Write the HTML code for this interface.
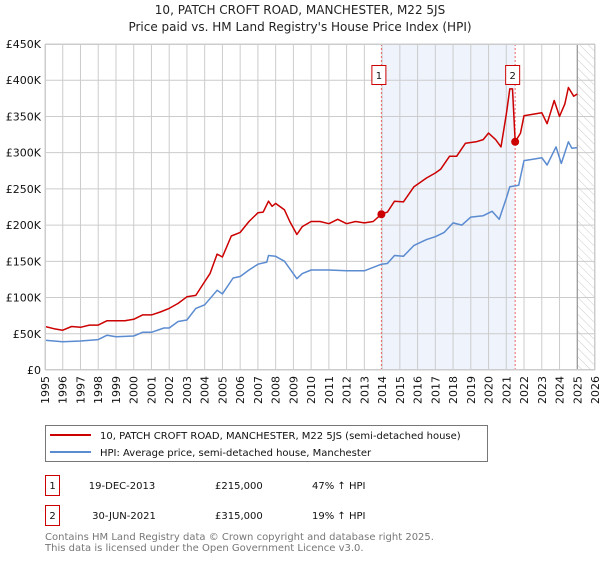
<!DOCTYPE html>
<html><head><meta charset="utf-8"><style>
body{margin:0;background:#fff;font-family:"DejaVu Sans","Liberation Sans",sans-serif;}
svg text{font-family:"DejaVu Sans","Liberation Sans",sans-serif;}
</style></head><body>
<svg id="c" width="600" height="560" xmlns="http://www.w3.org/2000/svg">
<defs><pattern id="hatch" width="6" height="6" patternUnits="userSpaceOnUse" patternTransform="rotate(-45)"><line x1="0" y1="0" x2="0" y2="6" stroke="#ccc" stroke-width="1"/></pattern></defs>
<text x="300" y="14" text-anchor="middle" font-size="12" fill="#222">10, PATCH CROFT ROAD, MANCHESTER, M22 5JS</text>
<text x="300" y="31" text-anchor="middle" font-size="12" fill="#222">Price paid vs. HM Land Registry's House Price Index (HPI)</text>
<g id="plot"></g>
<g>
<rect x="45.5" y="425.5" width="442" height="36" fill="#fff" stroke="#777"/>
<line x1="50" y1="435" x2="91" y2="435" stroke="#cc0000" stroke-width="2"/>
<text x="100" y="439" font-size="10" fill="#111">10, PATCH CROFT ROAD, MANCHESTER, M22 5JS (semi-detached house)</text>
<line x1="50" y1="452" x2="91" y2="452" stroke="#5b8bd0" stroke-width="2"/>
<text x="100" y="456" font-size="10" fill="#111">HPI: Average price, semi-detached house, Manchester</text>
</g>
<g font-size="10" fill="#111">
<rect x="45.5" y="475.5" width="14" height="20" fill="none" stroke="#cc0000"/><text x="52.5" y="489" text-anchor="middle">1</text>
<text x="122" y="489" text-anchor="middle">19-DEC-2013</text><text x="215" y="489">£215,000</text><text x="312" y="489">47% ↑ HPI</text>
<rect x="45.5" y="505.5" width="14" height="20" fill="none" stroke="#cc0000"/><text x="52.5" y="519" text-anchor="middle">2</text>
<text x="124" y="519" text-anchor="middle">30-JUN-2021</text><text x="215" y="519">£315,000</text><text x="312" y="519">19% ↑ HPI</text>
</g>
<text x="45" y="540" font-size="10" fill="#777">Contains HM Land Registry data © Crown copyright and database right 2025.</text>
<text x="45" y="551" font-size="10" fill="#777">This data is licensed under the Open Government Licence v3.0.</text>
</svg>
<script>
const yTicks=[0,50,100,150,200,250,300,350,400,450];
const yTickLabels=["£0","£50K","£100K","£150K","£200K","£250K","£300K","£350K","£400K","£450K"];
const years=[1995,1996,1997,1998,1999,2000,2001,2002,2003,2004,2005,2006,2007,2008,2009,2010,2011,2012,2013,2014,2015,2016,2017,2018,2019,2020,2021,2022,2023,2024,2025,2026];
const redT=[1995,1995.5,1996,1996.5,1997,1997.5,1998,1998.5,1999,1999.5,2000,2000.5,2001,2001.5,2002,2002.5,2003,2003.5,2004,2004.3,2004.7,2005,2005.5,2006,2006.5,2007,2007.3,2007.6,2007.8,2008,2008.5,2008.8,2009.2,2009.5,2010,2010.5,2011,2011.5,2012,2012.5,2013,2013.5,2013.96,2014.3,2014.7,2015.2,2015.8,2016.5,2017,2017.3,2017.8,2018.2,2018.7,2019.3,2019.7,2020,2020.4,2020.7,2021,2021.2,2021.35,2021.5,2021.8,2022,2022.5,2023,2023.3,2023.7,2024,2024.3,2024.5,2024.8,2025];
const redV=[60,57,55,60,59,62,62,68,68,68,70,76,76,80,85,92,101,103,122,133,160,156,185,190,205,217,218,233,226,230,221,205,187,198,205,205,202,208,202,205,203,205,215,218,233,232,253,265,272,277,295,295,313,315,318,327,318,308,353,388,388,315,327,351,353,355,340,372,350,367,390,378,381];
const blueT=[1995,1996,1997,1998,1998.5,1999,2000,2000.5,2001,2001.7,2002,2002.5,2003,2003.5,2004,2004.7,2005,2005.6,2006,2006.5,2007,2007.5,2007.6,2008,2008.5,2009.2,2009.5,2010,2011,2012,2013,2013.96,2014.3,2014.7,2015.2,2015.8,2016.5,2017,2017.5,2018,2018.5,2019,2019.7,2020.2,2020.6,2021,2021.2,2021.7,2022,2022.5,2023,2023.3,2023.8,2024.1,2024.5,2024.7,2025];
const blueV=[41,39,40,42,48,46,47,52,52,58,58,67,69,85,90,110,105,127,129,138,146,149,158,157,150,126,133,138,138,137,137,146,147,158,157,172,180,184,190,203,200,211,213,219,208,237,253,255,289,291,293,283,308,285,315,306,307];
const sales=[[2013.96,215,"1"],[2021.5,315,"2"]];
const NS="http://www.w3.org/2000/svg";
const X0=45,X1=595,Y0=370,Y1=44;
const xs=t=>X0+(t-1995)/(2026-1995)*(X1-X0);
const ys=v=>Y0-v/450*(Y0-Y1);
const g=document.getElementById('plot');
function mk(tag,a){const e=document.createElementNS(NS,tag);for(const k in a)e.setAttribute(k,a[k]);g.appendChild(e);return e;}
let e=mk('rect',{x:xs(sales[0][0]),y:Y1,width:xs(sales[1][0])-xs(sales[0][0]),height:Y0-Y1,fill:'#eef3fc'});


e=mk('rect',{x:xs(2025),y:Y1,width:X1-xs(2025),height:Y0-Y1,fill:'url(#hatch)'});


yTicks.forEach((v,i)=>{
 e=mk('line',{x1:X0,x2:X1,y1:ys(v),y2:ys(v),stroke:'#ccc'});
 
 
 e=mk('text',{x:X0-4,y:ys(v)+4,'text-anchor':'end','font-size':11,fill:'#111'});e.textContent=yTickLabels[i];
 
 
});
years.forEach(y=>{
 e=mk('line',{x1:xs(y),x2:xs(y),y1:Y1,y2:Y0,stroke:'#ccc'});
 
 
 e=mk('text',{x:0,y:0,'text-anchor':'end','font-size':11,fill:'#111',transform:`translate(${xs(y)+4},${Y0+6}) rotate(-90)`});e.textContent=y;
 
 
});
e=mk('line',{x1:xs(2025),x2:xs(2025),y1:Y1,y2:Y0,stroke:'#888'});


sales.forEach(s=>{
 e=mk('line',{x1:xs(s[0]),x2:xs(s[0]),y1:Y1,y2:Y0,stroke:'#e66','stroke-dasharray':'2,2'});
 
 
});
function line(T,V,c,n){const p=T.map((t,i)=>(i?'L':'M')+xs(t).toFixed(1)+','+ys(V[i]).toFixed(1)).join('');
 const el=mk('path',{d:p,fill:'none',stroke:c,'stroke-width':1.5,'stroke-linejoin':'round'});
 
 }
line(blueT,blueV,'#5b8bd0','hpi-line');
line(redT,redV,'#cc0000','property-line');
sales.forEach(s=>{
 e=mk('circle',{cx:xs(s[0]),cy:ys(s[1]),r:4,fill:'#cc0000'});
 
 
 e=mk('rect',{x:xs(s[0])-9.5,y:65.5,width:14,height:19,fill:'#fff',stroke:'#cc0000'});
 
 
 e=mk('text',{x:xs(s[0])-2.5,y:79,'text-anchor':'middle','font-size':10,fill:'#111'});e.textContent=s[2];
 
 
});
e=mk('rect',{x:X0+0.5,y:Y1+0.5,width:X1-X0-1,height:Y0-Y1-1,fill:'none',stroke:'#ccc'});


</script>
</body></html>
